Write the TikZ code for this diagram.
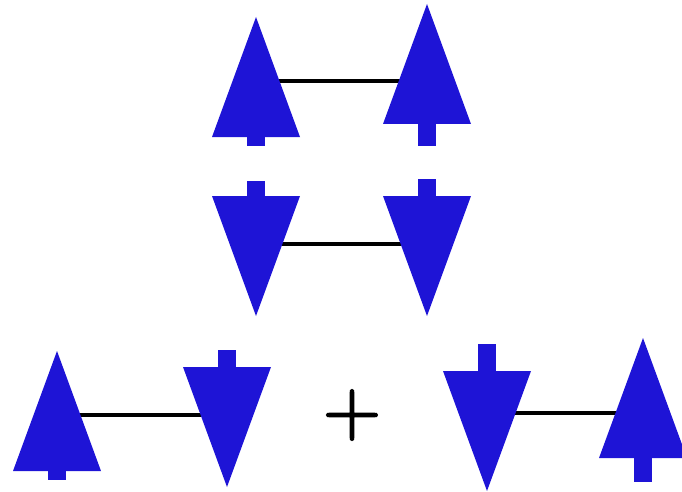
\documentclass[tikz,border=0pt]{standalone}
\usepackage{fontspec}
\newfontfamily\plusfont{lmsans10-regular.otf}[FakeBold=2]
\definecolor{spinblue}{RGB}{30,20,214}
\tikzset{
  spin/.style={fill=spinblue},
  bond/.style={draw=black,line width=4.7pt},
  plustext/.style={inner sep=0pt,font=\plusfont\fontsize{76}{76}\selectfont}
}
\newcommand{\uparr}[2]{% base centre, stem length
  \fill[spin] (#1) ++(-44,0) -- ++(44,-120) -- ++(44,120) -- cycle;
  \fill[spin] (#1) ++(-9,0) rectangle ++(18,#2);}
\newcommand{\downarr}[2]{% base centre, stem length
  \fill[spin] (#1) ++(-44,0) -- ++(44,120) -- ++(44,-120) -- cycle;
  \fill[spin] (#1) ++(-9,0) rectangle ++(18,-#2);}
\begin{document}
\begin{tikzpicture}[x=1pt,y=-1pt]
\useasboundingbox (0,0) rectangle (682,492);
\clip (0,0) rectangle (682,492);
% base centres of the spins
\coordinate (tl) at (256,137);
\coordinate (tr) at (427,124);
\coordinate (ml) at (256,196);
\coordinate (mr) at (427,196);
\coordinate (bl1) at (57,471);
\coordinate (bl2) at (227,367);
\coordinate (br1) at (487,371);
\coordinate (br2) at (643,458);
% bond ends
\coordinate (tlb) at (256,81);
\coordinate (trb) at (427,81);
\coordinate (mlb) at (256,244);
\coordinate (mrb) at (427,244);
\coordinate (bl1b) at (57,415);
\coordinate (bl2b) at (227,415);
\coordinate (br1b) at (487,413);
\coordinate (br2b) at (643,413);
\draw[bond] (tlb) -- (trb);
\draw[bond] (mlb) -- (mrb);
\draw[bond] (bl1b) -- (bl2b);
\draw[bond] (br1b) -- (br2b);
\uparr{tl}{9}
\uparr{tr}{22}
\downarr{ml}{15}
\downarr{mr}{17}
\uparr{bl1}{9}
\downarr{bl2}{17}
\downarr{br1}{27}
\uparr{br2}{24}
\node[plustext] (plus) at (352,415) {+};
\end{tikzpicture}
\end{document}
